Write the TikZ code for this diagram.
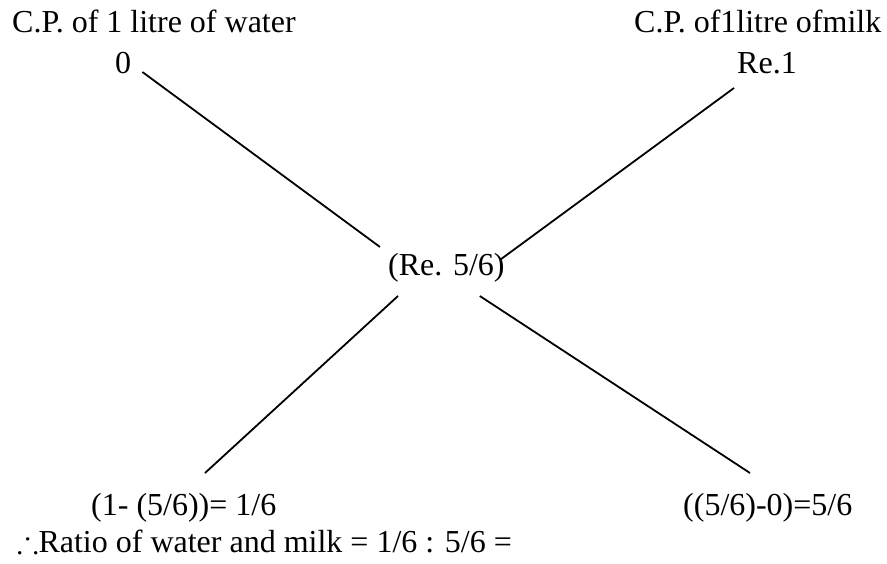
\documentclass[tikz,border=0pt]{standalone}
\usepackage{amssymb}
\usepackage{fontspec}
\setmainfont{Liberation Serif}
\usetikzlibrary{positioning}

\begin{document}
\begin{tikzpicture}[x=1pt,y=-1pt,
 lbl/.style={inner sep=0pt,anchor=base west,font=\fontsize{32}{36}\selectfont},
 leg/.style={draw=black,line width=1.8pt}]
\useasboundingbox (0,0) rectangle (887,563);
\node[lbl] (water) at (12,32) {C.P. of 1 litre of water};
\node[lbl] (zero) at (115,73) {0};
\node[lbl] (milk) at (634,32) {C.P. of1litre ofmilk};
\node[lbl] (one) at (737,73) {Re.1};
\node[lbl] (mid) at (388,275) {(Re. 5/6)};
\node[lbl] (dwater) at (91,515) {(1- (5/6))= 1/6};
\node[lbl] (dmilk) at (683,515) {((5/6)-0)=5/6};
\node[lbl] (ratio) at (17,552) {$\therefore$Ratio of water and milk = 1/6 : 5/6 =};
\draw[leg] ([shift={(11,-1)}]zero.base east)--([shift={(-8,-28)}]mid.base west);
\draw[leg] ([shift={(-3,15)}]one.base west)--([shift={(-5,-15)}]mid.base east);
\draw[leg] ([shift={(10,21)}]mid.base west)--([shift={(114,-42)}]dwater.base west);
\draw[leg] ([shift={(-25,21)}]mid.base east)--([shift={(67,-42)}]dmilk.base west);
\end{tikzpicture}
\end{document}
